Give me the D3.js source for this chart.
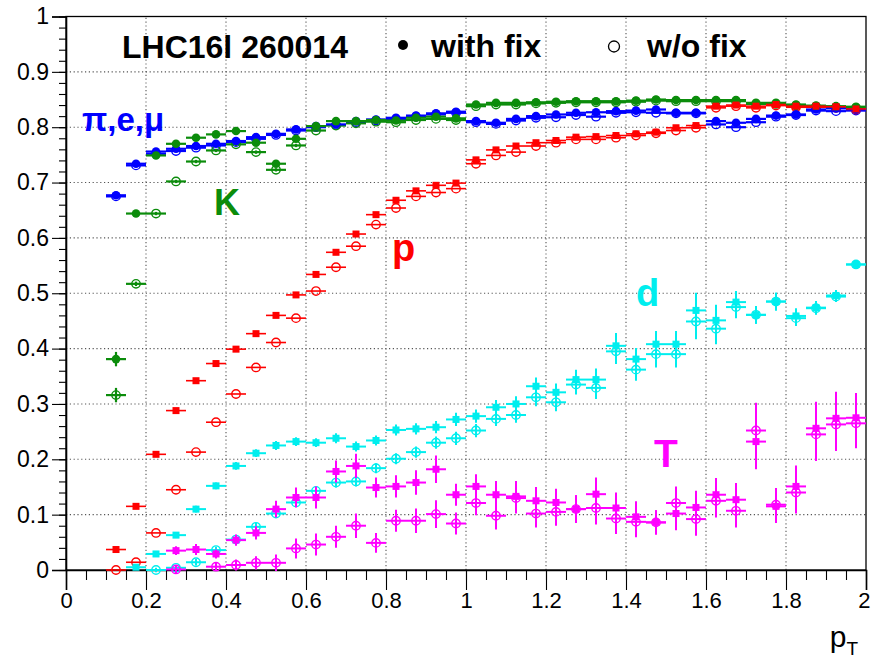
<!DOCTYPE html>
<html>
<head>
<meta charset="utf-8">
<script src="https://cdn.jsdelivr.net/npm/d3@7/dist/d3.min.js"></script>
<style>
  body { margin: 0; background: #fff; }
  text { font-family: "Liberation Sans", Arial, Helvetica, sans-serif; }
</style>
</head>
<body>
<svg id="chart" width="871" height="663"></svg>
<script>
// pT bin centres (bin width 0.05 GeV/c)
const ptBins = [0.125, 0.175, 0.225, 0.275, 0.325, 0.375, 0.425, 0.475, 0.525, 0.575,
                0.625, 0.675, 0.725, 0.775, 0.825, 0.875, 0.925, 0.975, 1.025, 1.075,
                1.125, 1.175, 1.225, 1.275, 1.325, 1.375, 1.425, 1.475, 1.525, 1.575,
                1.625, 1.675, 1.725, 1.775, 1.825, 1.875, 1.925, 1.975];
const binHalfWidth = 0.025;

// pi, e, mu
const pionFix   = [0.677, 0.734, 0.756, 0.761, 0.766, 0.770, 0.775, 0.782, 0.788, 0.796,
                   0.802, 0.805, 0.811, 0.814, 0.817, 0.821, 0.825, 0.828, 0.811, 0.808,
                   0.815, 0.820, 0.823, 0.826, 0.827, 0.829, 0.830, 0.832, 0.826, 0.826,
                   0.811, 0.808, 0.815, 0.821, 0.823, 0.832, 0.834, 0.832];
const pionNoFix = [0.675, 0.731, 0.752, 0.757, 0.763, 0.767, 0.773, 0.779, 0.786, 0.794,
                   0.800, 0.804, 0.809, 0.812, 0.815, 0.819, 0.823, 0.826, 0.809, 0.806,
                   0.812, 0.817, 0.818, 0.822, 0.819, 0.826, 0.827, 0.826, 0.825, 0.825,
                   0.805, 0.800, 0.809, 0.819, 0.822, 0.830, 0.829, 0.830];

// K
const kaonFix   = [0.381, 0.644, 0.749, 0.770, 0.781, 0.787, 0.793, 0.772, 0.734, 0.779,
                   0.802, 0.811, 0.811, 0.813, 0.812, 0.817, 0.819, 0.816, 0.841, 0.844,
                   0.844, 0.845, 0.846, 0.847, 0.847, 0.847, 0.848, 0.850, 0.849, 0.849,
                   0.849, 0.849, 0.844, 0.844, 0.841, 0.839, 0.838, 0.837];
const kaonNoFix = [0.316, 0.517, 0.644, 0.702, 0.738, 0.758, 0.769, 0.755, 0.723, 0.767,
                   0.794, 0.803, 0.807, 0.810, 0.809, 0.813, 0.815, 0.813, 0.838, 0.841,
                   0.841, 0.843, 0.844, 0.845, 0.845, 0.845, 0.846, 0.848, 0.847, 0.847,
                   0.847, 0.847, 0.842, 0.842, 0.839, 0.837, 0.836, 0.835];
const kaonErr   = [0.013, 0.004, 0.003, 0.003, 0.003, 0.003, 0.003, 0.003, 0.003, 0.003,
                   0.002, 0.002, 0.002, 0.002, 0.002, 0.002, 0.002, 0.002, 0.002, 0.002,
                   0.002, 0.002, 0.002, 0.002, 0.002, 0.002, 0.002, 0.002, 0.002, 0.002,
                   0.002, 0.002, 0.002, 0.002, 0.002, 0.002, 0.002, 0.002];

// p
const protonFix   = [0.037, 0.115, 0.209, 0.288, 0.342, 0.373, 0.399, 0.427, 0.460, 0.497,
                     0.534, 0.574, 0.607, 0.642, 0.668, 0.685, 0.695, 0.699, 0.741, 0.759,
                     0.766, 0.772, 0.776, 0.782, 0.783, 0.785, 0.788, 0.791, 0.799, 0.803,
                     0.838, 0.840, 0.838, 0.841, 0.838, 0.838, 0.837, 0.833];
const protonNoFix = [0.000, 0.014, 0.067, 0.145, 0.213, 0.267, 0.318, 0.366, 0.411, 0.455,
                     0.504, 0.547, 0.585, 0.624, 0.654, 0.675, 0.682, 0.689, 0.734, 0.749,
                     0.755, 0.766, 0.772, 0.778, 0.778, 0.781, 0.785, 0.789, 0.794, 0.799,
                     0.835, 0.838, 0.835, 0.839, 0.836, 0.836, 0.835, 0.832];

// d
const deuteronFix   = [null, 0.005, 0.029, 0.063, 0.110, 0.152, 0.188, 0.211, 0.225, 0.232,
                       0.230, 0.238, 0.223, 0.234, 0.253, 0.255, 0.258, 0.272, 0.278, 0.294,
                       0.300, 0.332, 0.321, 0.344, 0.344, 0.405, 0.381, 0.408, 0.408, 0.469,
                       0.451, 0.484, 0.461, 0.485, 0.459, 0.474, 0.496, 0.552];
const deuteronNoFix = [null, null, 0.000, 0.004, 0.014, 0.036, 0.055, 0.078, 0.102, 0.122,
                       0.143, 0.158, 0.160, 0.184, 0.201, 0.213, 0.230, 0.238, 0.252, 0.273,
                       0.280, 0.312, 0.303, 0.335, 0.329, 0.395, 0.362, 0.390, 0.390, 0.449,
                       0.436, 0.475, 0.461, 0.485, 0.455, 0.473, 0.494, 0.552];
const deuteronErr   = [0, 0.003, 0.004, 0.005, 0.006, 0.006, 0.007, 0.007, 0.008, 0.008,
                       0.008, 0.009, 0.009, 0.009, 0.010, 0.010, 0.011, 0.012, 0.012, 0.013,
                       0.014, 0.016, 0.016, 0.018, 0.020, 0.023, 0.020, 0.024, 0.024, 0.032,
                       0.028, 0.020, 0.016, 0.016, 0.014, 0.012, 0.010, 0.005];

// T
const tritonFix   = [null, null, null, 0.035, 0.037, 0.029, 0.054, 0.067, 0.110, 0.131,
                     0.131, 0.178, 0.188, 0.149, 0.151, 0.158, 0.182, 0.136, 0.151, 0.136,
                     0.133, 0.125, 0.122, 0.110, 0.137, 0.112, 0.096, 0.086, 0.102, 0.113,
                     0.136, 0.127, 0.232, 0.115, 0.151, 0.256, 0.274, 0.275];
const tritonNoFix = [null, null, null, 0.001, null, 0.006, 0.009, 0.013, 0.013, 0.039,
                     0.046, 0.060, 0.080, 0.049, 0.089, 0.089, 0.101, 0.084, 0.121, 0.098,
                     0.130, 0.102, 0.105, 0.110, 0.112, 0.093, 0.087, 0.086, 0.121, 0.092,
                     0.125, 0.107, 0.252, 0.118, 0.140, 0.245, 0.263, 0.265];
const tritonErr   = [0, 0, 0, 0.008, 0.010, 0.008, 0.010, 0.012, 0.015, 0.018,
                     0.020, 0.020, 0.022, 0.018, 0.020, 0.022, 0.025, 0.020, 0.022, 0.025,
                     0.028, 0.025, 0.025, 0.025, 0.030, 0.028, 0.028, 0.022, 0.030, 0.030,
                     0.030, 0.030, 0.050, 0.030, 0.038, 0.048, 0.048, 0.045];

const xTickValues = [0, 0.2, 0.4, 0.6, 0.8, 1, 1.2, 1.4, 1.6, 1.8, 2];
const yTickValues = [0, 0.1, 0.2, 0.3, 0.4, 0.5, 0.6, 0.7, 0.8, 0.9, 1];

const species = [
  { label: "π,e,μ", color: "#0000ff", fix: pionFix,     noFix: pionNoFix,     err: null,        marker: "circle", lw: 2.2 },
  { label: "K",     color: "#0b8c0b", fix: kaonFix,     noFix: kaonNoFix,     err: kaonErr,     marker: "circle", lw: 2.2 },
  { label: "p",     color: "#ff0000", fix: protonFix,   noFix: protonNoFix,   err: null,        marker: "square", lw: 1.6 },
  { label: "d",     color: "#00eeee", fix: deuteronFix, noFix: deuteronNoFix, err: deuteronErr, marker: "square", lw: 2.0 },
  { label: "T",     color: "#ff00ff", fix: tritonFix,   noFix: tritonNoFix,   err: tritonErr,   marker: "square", lw: 2.0 }
];

const svg = d3.select("#chart");
const margin = { left: 66, right: 866, top: 16.5, bottom: 570 };

const x = d3.scaleLinear().domain([0, 2]).range([margin.left, margin.right]);
const y = d3.scaleLinear().domain([0, 1]).range([margin.bottom, margin.top]);

// dotted grid at the major ticks
const grid = svg.append("g").attr("stroke", "#555").attr("stroke-width", 1.1)
  .attr("stroke-dasharray", "1.2,2.6");
grid.selectAll("line.gx").data(xTickValues.slice(1, -1)).join("line")
  .attr("x1", d => x(d)).attr("x2", d => x(d))
  .attr("y1", y(0)).attr("y2", y(1));
grid.selectAll("line.gy").data(yTickValues.slice(1, -1)).join("line")
  .attr("y1", d => y(d)).attr("y2", d => y(d))
  .attr("x1", x(0)).attr("x2", x(2));

// frame
svg.append("rect")
  .attr("x", x(0)).attr("y", y(1))
  .attr("width", x(2) - x(0)).attr("height", y(0) - y(1))
  .attr("fill", "none").attr("stroke", "#000").attr("stroke-width", 1.3);

// axes: minor ticks first, then labelled major ticks
const fmt = d3.format("~g");
const xMinor = d3.range(0, 41).map(i => i * 0.05);
const yMinor = d3.range(0, 51).map(i => i * 0.02);

svg.append("g").attr("transform", `translate(0,${y(0)})`)
  .call(d3.axisBottom(x).tickValues(xMinor).tickSize(10).tickFormat(""))
  .call(g => g.select(".domain").remove());
const gx = svg.append("g").attr("transform", `translate(0,${y(0)})`)
  .call(d3.axisBottom(x).tickValues(xTickValues).tickSize(20).tickPadding(6).tickFormat(fmt));

svg.append("g").attr("transform", `translate(${x(0)},0)`)
  .call(d3.axisLeft(y).tickValues(yMinor).tickSize(7).tickFormat(""))
  .call(g => g.select(".domain").remove());
const gy = svg.append("g").attr("transform", `translate(${x(0)},0)`)
  .call(d3.axisLeft(y).tickValues(yTickValues).tickSize(14).tickPadding(3).tickFormat(fmt));

svg.selectAll(".tick line").attr("stroke", "#000").attr("stroke-width", 1.1);
svg.selectAll(".domain").attr("stroke", "#000").attr("stroke-width", 1.6);
gx.selectAll(".tick text").attr("font-size", 22).attr("fill", "#000")
  .attr("font-family", "Liberation Sans, Arial, sans-serif").attr("dy", "0.55em");
// keep the last label inside the canvas
gx.selectAll(".tick text").filter(d => d === 2).attr("text-anchor", "end").attr("x", 4);
gy.selectAll(".tick text").attr("font-size", 23).attr("fill", "#000")
  .attr("font-family", "Liberation Sans, Arial, sans-serif");

// x axis title p_T
const xt = svg.append("text").attr("x", 858).attr("y", 647)
  .attr("text-anchor", "end").attr("font-size", 30).attr("fill", "#000");
xt.append("tspan").text("p");
xt.append("tspan").attr("font-size", 19).attr("dy", 8).text("T");

// data points
const plot = svg.append("g");

function drawSet(sp, values, filled) {
  const pts = ptBins.map((pt, i) => ({ pt, v: values[i], e: sp.err ? sp.err[i] : 0 }))
    .filter(d => d.v !== null && d.v !== undefined);
  const g = plot.append("g");
  const bars = g.append("g").attr("stroke", sp.color).attr("stroke-width", sp.lw);
  bars.selectAll("line.h").data(pts).join("line")
    .attr("x1", d => x(d.pt - binHalfWidth)).attr("x2", d => x(d.pt + binHalfWidth))
    .attr("y1", d => y(d.v)).attr("y2", d => y(d.v));
  bars.selectAll("line.v").data(pts.filter(d => d.e > 0)).join("line")
    .attr("x1", d => x(d.pt)).attr("x2", d => x(d.pt))
    .attr("y1", d => y(d.v - d.e)).attr("y2", d => y(d.v + d.e));

  if (!filled) {
    g.selectAll("circle.m").data(pts).join("circle")
      .attr("cx", d => x(d.pt)).attr("cy", d => y(d.v)).attr("r", 4.2)
      .attr("fill", "none").attr("stroke", sp.color).attr("stroke-width", 1.4);
  } else if (sp.marker === "circle") {
    g.selectAll("circle.m").data(pts).join("circle")
      .attr("cx", d => x(d.pt)).attr("cy", d => y(d.v)).attr("r", 4.3)
      .attr("fill", sp.color);
  } else {
    const s = 7;
    g.selectAll("rect.m").data(pts).join("rect")
      .attr("x", d => x(d.pt) - s / 2).attr("y", d => y(d.v) - s / 2)
      .attr("width", s).attr("height", s).attr("fill", sp.color);
  }
}

species.forEach(sp => drawSet(sp, sp.noFix, false));
species.forEach(sp => drawSet(sp, sp.fix, true));

// species labels
const labels = [
  { text: "π,e,μ", color: "#0000ff", x: 82,  y: 131, size: 33 },
  { text: "K",     color: "#0b8c0b", x: 214, y: 215, size: 36 },
  { text: "p",     color: "#ff0000", x: 392, y: 261, size: 38 },
  { text: "d",     color: "#00eeee", x: 636, y: 306, size: 38 },
  { text: "T",     color: "#ff00ff", x: 654, y: 467, size: 39 }
];
svg.selectAll("text.species").data(labels).join("text")
  .attr("class", "species")
  .attr("x", d => d.x).attr("y", d => d.y)
  .attr("font-size", d => d.size).attr("font-weight", "bold")
  .attr("fill", d => d.color).text(d => d.text);

// run label and legend
svg.append("text").attr("x", 122).attr("y", 58).attr("font-size", 32)
  .attr("font-weight", "bold").attr("fill", "#000").text("LHC16l 260014");
svg.append("circle").attr("cx", 403).attr("cy", 45).attr("r", 5).attr("fill", "#000");
svg.append("text").attr("x", 431).attr("y", 57).attr("font-size", 32)
  .attr("font-weight", "bold").attr("fill", "#000").text("with fix");
svg.append("circle").attr("cx", 614).attr("cy", 46.5).attr("r", 5.5)
  .attr("fill", "none").attr("stroke", "#000").attr("stroke-width", 1.3);
svg.append("text").attr("x", 647).attr("y", 57).attr("font-size", 32)
  .attr("font-weight", "bold").attr("fill", "#000").text("w/o fix");
</script>
</body>
</html>
